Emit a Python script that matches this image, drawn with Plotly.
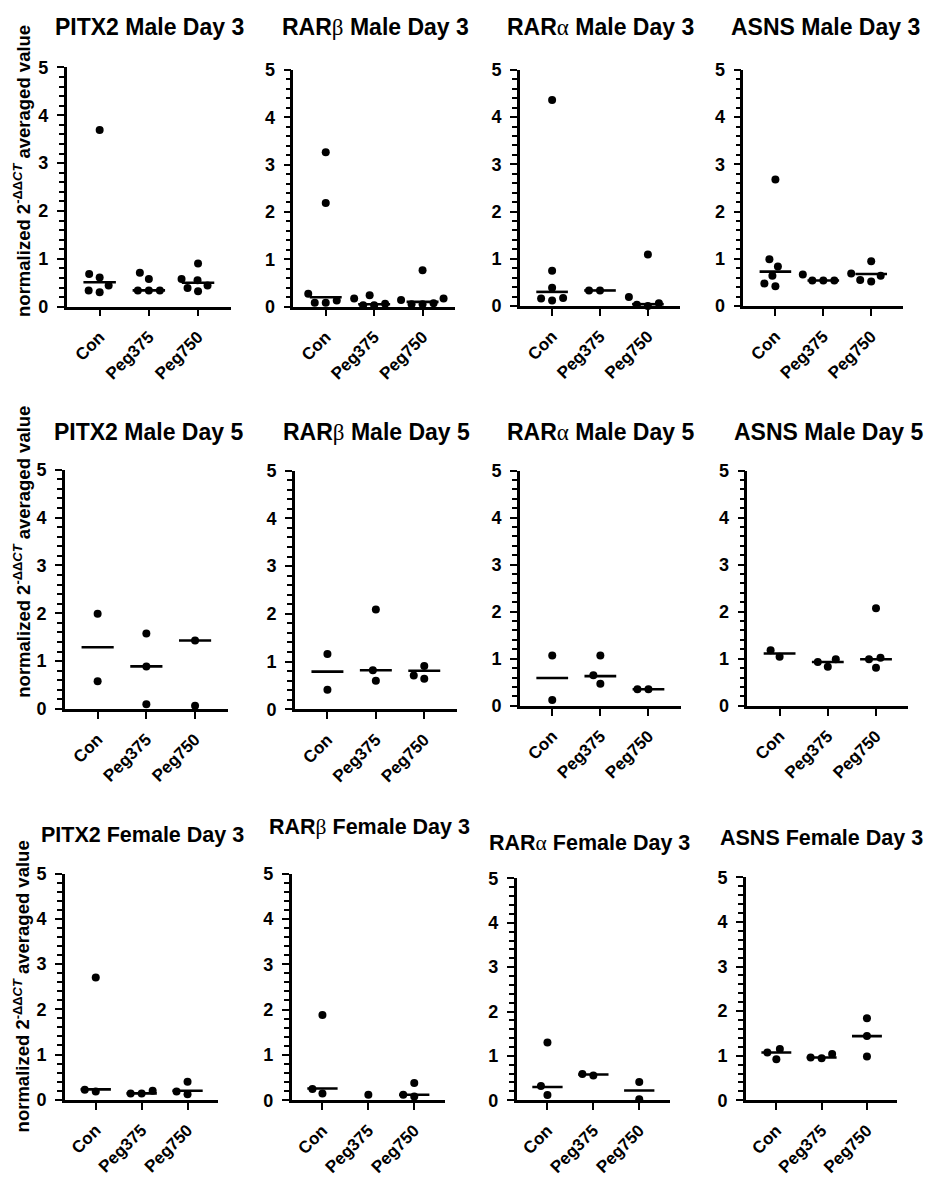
import numpy as np
import plotly.graph_objects as go

# ---------------- data ----------------
categories = ["Con", "Peg375", "Peg750"]

panel_titles = [
    "PITX2 Male Day 3", "RAR{b} Male Day 3", "RAR{a} Male Day 3", "ASNS Male Day 3",
    "PITX2 Male Day 5", "RAR{b} Male Day 5", "RAR{a} Male Day 5", "ASNS Male Day 5",
    "PITX2 Female Day 3", "RAR{b} Female Day 3", "RAR{a} Female Day 3", "ASNS Female Day 3",
]

pitx2_male_d3 = [[0.30, 0.68, 0.44, 0.61, 0.34, 3.69],
                 [0.71, 0.58, 0.34, 0.34, 0.34],
                 [0.90, 0.32, 0.44, 0.55, 0.39, 0.58]]
rarb_male_d3 = [[3.26, 2.19, 0.27, 0.08, 0.13, 0.08],
                [0.24, 0.17, 0.03, 0.03, 0.06],
                [0.77, 0.17, 0.07, 0.05, 0.14, 0.05]]
rara_male_d3 = [[4.36, 0.75, 0.39, 0.12, 0.17, 0.16],
                [0.33, 0.33],
                [1.09, 0.00, 0.06, 0.19, 0.03]]
asns_male_d3 = [[2.68, 0.99, 0.84, 0.64, 0.42, 0.48],
                [0.54, 0.67, 0.54, 0.54],
                [0.95, 0.52, 0.69, 0.55, 0.64]]
pitx2_male_d5 = [[1.99, 0.58], [1.58, 0.89, 0.10], [1.43, 0.07]]
rarb_male_d5 = [[1.16, 0.41], [2.09, 0.82, 0.60], [0.64, 0.91, 0.71]]
rara_male_d5 = [[1.07, 0.12], [1.07, 0.65, 0.47], [0.35, 0.35]]
asns_male_d5 = [[1.04, 1.18], [0.99, 0.83, 0.93], [2.07, 1.02, 0.99, 0.81]]
pitx2_female_d3 = [[2.70, 0.18, 0.22], [0.14, 0.20, 0.14], [0.12, 0.40, 0.18]]
rarb_female_d3 = [[1.88, 0.15, 0.25], [0.12], [0.38, 0.08, 0.12]]
rara_female_d3 = [[1.30, 0.32, 0.12], [0.56, 0.59], [0.41, 0.02]]
asns_female_d3 = [[1.15, 0.92, 1.07], [0.94, 1.04, 0.96], [1.84, 1.44, 0.98]]

# horizontal summary lines (median); None = no line
pitx2_male_d3_med = [0.51, 0.34, 0.50]
rarb_male_d3_med = [0.20, 0.05, 0.10]
rara_male_d3_med = [0.30, 0.33, 0.04]
asns_male_d3_med = [0.73, 0.54, 0.68]
pitx2_male_d5_med = [1.29, 0.89, 1.43]
rarb_male_d5_med = [0.79, 0.82, 0.81]
rara_male_d5_med = [0.59, 0.63, 0.35]
asns_male_d5_med = [1.11, 0.93, 0.99]
pitx2_female_d3_med = [0.23, 0.14, 0.20]
rarb_female_d3_med = [0.26, None, 0.12]
rara_female_d3_med = [0.30, 0.58, 0.22]
asns_female_d3_med = [1.07, 0.96, 1.44]

y_range = [0, 5]
y_major_step = 1
y_minor_step = 0.2
y_title = "normalized 2<sup>-ΔΔ<i>CT</i></sup> averaged value"

panel_values = [pitx2_male_d3, rarb_male_d3, rara_male_d3, asns_male_d3,
                pitx2_male_d5, rarb_male_d5, rara_male_d5, asns_male_d5,
                pitx2_female_d3, rarb_female_d3, rara_female_d3, asns_female_d3]
panel_medians = [pitx2_male_d3_med, rarb_male_d3_med, rara_male_d3_med, asns_male_d3_med,
                 pitx2_male_d5_med, rarb_male_d5_med, rara_male_d5_med, asns_male_d5_med,
                 pitx2_female_d3_med, rarb_female_d3_med, rara_female_d3_med, asns_female_d3_med]

# ---------------- layout (pixels) ----------------
W, H = 926, 1177
# plot boxes: x_left, x_right, y_top(value 5), y_bottom(value 0)
boxes = [
    (66.7, 231.0, 58.5, 302.3), (293.3, 455.0, 61.0, 302.3),
    (520.0, 680.0, 61.0, 301.7), (743.3, 903.3, 61.0, 301.7),
    (65.0, 227.7, 468.5, 712.3), (295.0, 456.7, 469.3, 712.7),
    (520.0, 680.7, 469.3, 709.0), (747.3, 908.3, 469.3, 709.0),
    (65.0, 218.3, 880.0, 1110.5), (291.7, 445.0, 880.0, 1111.0),
    (516.7, 670.0, 885.0, 1111.0), (746.0, 897.3, 884.0, 1111.0),
]
title_pos = [
    (149, 17), (375.5, 17), (600, 17), (825.5, 17),
    (148, 430), (376.7, 430), (600, 430), (828.3, 430),
    (142, 841), (369, 833), (589, 849), (821, 844),
]
title_sizes = [23, 23, 23, 23, 23, 23, 23, 23, 21.5, 21.5, 21.5, 21.5]
ytitle_pos = [(22, 164), (22, 552), (22, 995)]

X_RANGE = [-0.67, 2.67]
MARKER_D = 8
HALF_LINE = 0.33

FONT = "Liberation Sans, Arial, sans-serif"


def greekify(text, size):
    sp = ('<span style="font-family:Liberation Serif;font-weight:normal;'
          f'font-size:{size}px">')
    return text.replace("{b}", sp + "β</span>").replace("{a}", sp + "α</span>")


def swarm(values, px_per_y, px_per_x, d=11.0):
    """simple beeswarm: offsets (in x units) so markers do not overlap"""
    vals = np.asarray(values, dtype=float)
    order = np.argsort(vals, kind="stable")
    placed = []
    offs = np.zeros(len(vals))
    for idx in order:
        y = vals[idx] * px_per_y
        k = 0
        found = None
        while found is None:
            cands = [0.0] if k == 0 else [-k * 0.5, k * 0.5]
            for c in cands:
                if all((c - px) ** 2 + (y - py) ** 2 >= d * d for px, py in placed):
                    found = c
                    break
            k += 1
        placed.append((found, y))
        offs[idx] = found / px_per_x
    return offs


fig = go.Figure()

for i, (vals3, meds, box) in enumerate(zip(panel_values, panel_medians, boxes)):
    n = i + 1
    xa = "x" if n == 1 else f"x{n}"
    ya = "y" if n == 1 else f"y{n}"
    x0, x1, yt, yb = box
    px_per_y = (yb - yt) / (y_range[1] - y_range[0])
    px_per_x = (x1 - x0) / (X_RANGE[1] - X_RANGE[0])

    for ci, vals in enumerate(vals3):
        offs = swarm(vals, px_per_y, px_per_x)
        fig.add_trace(go.Scatter(
            x=ci + offs, y=vals, mode="markers", xaxis=xa, yaxis=ya,
            marker=dict(size=MARKER_D, color="black", line=dict(width=0)),
            cliponaxis=False, showlegend=False, hoverinfo="y"))
        m = meds[ci]
        if m is not None:
            fig.add_trace(go.Scatter(
                x=[ci - HALF_LINE, ci + HALF_LINE], y=[m, m], mode="lines",
                xaxis=xa, yaxis=ya, line=dict(color="black", width=2.6),
                cliponaxis=False, showlegend=False, hoverinfo="skip"))

    axis_common = dict(showline=True, linecolor="black", linewidth=2.6,
                       ticks="outside", tickcolor="black", tickwidth=2.4, ticklen=7,
                       showgrid=False, zeroline=False, fixedrange=True)
    fig.layout[("xaxis" if n == 1 else f"xaxis{n}")] = dict(
        **axis_common,
        ticklabelstandoff=4,
        tickfont=dict(family=FONT, size=17, color="black", weight="bold"),
        domain=[x0 / W, x1 / W], anchor=ya, range=X_RANGE,
        tickmode="array", tickvals=[0, 1, 2],
        ticktext=[f"<b>{c}</b>" for c in categories], tickangle=-45,
    )
    fig.layout[("yaxis" if n == 1 else f"yaxis{n}")] = dict(
        **axis_common,
        ticklabelstandoff=5,
        tickfont=dict(family=FONT, size=18, color="black", weight="bold"),
        domain=[1 - yb / H, 1 - yt / H], anchor=xa, range=y_range,
        tickmode="linear", tick0=0, dtick=y_major_step,
        minor=dict(tickmode="linear", tick0=0, dtick=y_minor_step, ticks="outside",
                   ticklen=5, tickwidth=2, tickcolor="black", showgrid=False),
    )

    ts = title_sizes[i]
    tx, ty = title_pos[i]
    fig.add_annotation(text=greekify(panel_titles[i], ts), x=tx / W, y=1 - ty / H,
                       xref="paper", yref="paper",
                       xanchor="center", yanchor="middle", showarrow=False,
                       font=dict(family=FONT, size=ts, color="black", weight="bold"))

for (tx, ty) in ytitle_pos:
    fig.add_annotation(text=y_title, x=tx / W, y=1 - ty / H, xref="paper", yref="paper",
                       xanchor="center", yanchor="middle", showarrow=False, textangle=-90,
                       font=dict(family=FONT, size=18.5, color="black", weight="bold"))

fig.update_layout(width=W, height=H, margin=dict(l=0, r=0, t=0, b=0),
                  paper_bgcolor="white", plot_bgcolor="white", showlegend=False)

fig.write_html("out.html")
